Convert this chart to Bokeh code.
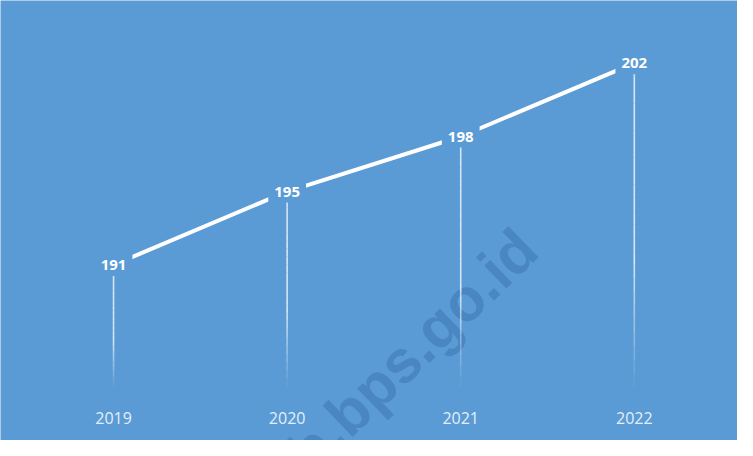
from bokeh.plotting import figure
from bokeh.models import ColumnDataSource, Range1d, Label
from bokeh.core.properties import value
from bokeh.embed import file_html
from bokeh.resources import INLINE

# ---- data ----
years = [2019, 2020, 2021, 2022]
year_labels = ["2019", "2020", "2021", "2022"]
values = [191, 195, 198, 202]
value_labels = ["191", "195", "198", "202"]

BG = "#5B9BD5"
BASE = 184.37      # where the drop lines end
LABEL_Y = 182.64   # where the year labels sit

p = figure(width=737, height=440, output_backend="svg", toolbar_location=None,
           x_axis_type=None, y_axis_type=None,
           x_range=Range1d(2018.3488, 2022.5945), y_range=Range1d(181.425, 205.416),
           min_border=0)
p.background_fill_color = BG
p.border_fill_color = BG
p.outline_line_color = None
p.grid.visible = False

# watermark
wm = Label(x=2020.058, y=180.253, text="b.bps.go.id", angle=44, angle_units="deg",
           text_font="Liberation Sans", text_font_style="bold", text_font_size="60px",
           text_color="#3A74B3", text_alpha=0.55, text_baseline="alphabetic", text_align="left",
           level="underlay")
p.add_layout(wm)

# drop lines with fade toward the bottom
N = 24
xs, ys, alphas = [], [], []
for x, v in zip(years, values):
    for i in range(N):
        f0 = i / N
        f1 = (i + 1) / N
        xs.append([x, x])
        ys.append([v - (v - BASE) * f0, v - (v - BASE) * f1])
        fm = (f0 + f1) / 2
        a = 0.85 if fm < 0.6 else 0.85 * (1 - (fm - 0.6) / 0.4) + 0.02
        alphas.append(a)
p.multi_line(xs=xs, ys=ys, line_color="#EAF3FC", line_alpha=alphas, line_width=1.6)

# main line
src = ColumnDataSource(dict(x=years, y=values, t=value_labels))
p.line("x", "y", source=src, line_color="white", line_width=4)

# value labels with background to cut the line
p.text("x", "y", text="t", source=src, text_color="white",
       text_font=value("Open Sans"), text_font_style="bold", text_font_size="15px",
       text_align="center", text_baseline="middle",
       background_fill_color=BG, padding=6)

# year (category) labels
ysrc = ColumnDataSource(dict(x=years, y=[LABEL_Y] * len(years), t=year_labels))
p.text("x", "y", text="t", source=ysrc, text_color="#E2EFFA",
       text_font=value("Open Sans"), text_font_size="16px",
       text_align="center", text_baseline="middle")

open("out.html", "w").write(file_html(p, INLINE))
